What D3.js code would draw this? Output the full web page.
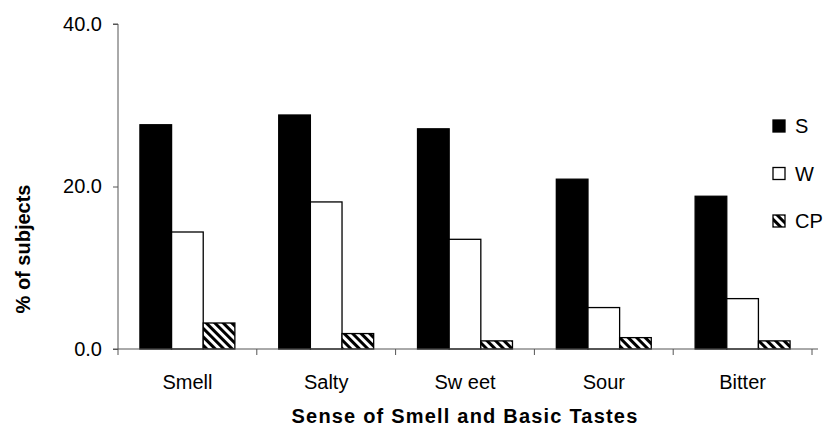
<!DOCTYPE html>
<html><head><meta charset="utf-8">
<script src="https://cdn.jsdelivr.net/npm/d3@7/dist/d3.min.js"></script>
<style>body{margin:0;background:#fff}svg{display:block;font-family:"Liberation Sans",Arial,sans-serif}</style>
</head><body><svg id="c" width="823" height="431"></svg>
<script>
const categories = ["Smell", "Salty", "Sw eet", "Sour", "Bitter"];
const seriesNames = ["S", "W", "CP"];
const valuesS  = [27.6, 28.8, 27.1, 20.9, 18.8];
const valuesW  = [14.4, 18.1, 13.5, 5.1, 6.2];
const valuesCP = [3.2, 1.9, 1.0, 1.4, 1.0];
const yTicks = [0, 20, 40];

const series = [valuesS, valuesW, valuesCP];
const svg = d3.select("#c");
const defs = svg.append("defs");
const pat = defs.append("pattern").attr("id","hatch").attr("patternUnits","userSpaceOnUse")
  .attr("width",6).attr("height",6).attr("patternTransform","rotate(-45)");
pat.append("rect").attr("width",6).attr("height",6).attr("fill","#fff");
pat.append("rect").attr("x",0).attr("width",3).attr("height",6).attr("fill","#000");

const fills = ["#000", "#fff", "url(#hatch)"];
const mLeft = 118, mRight = 812, mTop = 24, mBottom = 349;
const x = d3.scaleBand().domain(categories).range([mLeft, mRight]).padding(0);
const step = x.bandwidth();
const xs = d3.scaleBand().domain(seriesNames).range([step*0.158, step*0.842]).padding(0);
const y = d3.scaleLinear().domain([0, 40]).range([mBottom, mTop]);

// bars
series.forEach((vals, si) => {
  svg.append("g").selectAll("rect").data(vals).join("rect")
    .attr("x", (d,i) => x(categories[i]) + xs(seriesNames[si]))
    .attr("y", d => y(d))
    .attr("width", xs.bandwidth())
    .attr("height", d => mBottom - y(d))
    .attr("fill", fills[si]).attr("stroke", "#000").attr("stroke-width", 1.3);
});

// y axis
const ya = svg.append("g").attr("transform", `translate(${mLeft},0)`)
  .call(d3.axisLeft(y).tickValues(yTicks).tickFormat(d3.format(".1f")).tickSize(5).tickPadding(11));
ya.select(".domain").attr("stroke","#555").attr("d", `M-5,${mTop}H0V${mBottom}`);
ya.selectAll(".tick line").attr("stroke","#555");
ya.selectAll("text").attr("font-size",20).attr("fill","#000").attr("font-family","Liberation Sans, Arial, sans-serif");

// x axis
const xa = svg.append("g").attr("transform", `translate(0,${mBottom})`);
xa.append("line").attr("x1", mLeft - 5).attr("x2", mRight + 6).attr("stroke","#555");
const bounds = categories.map(c => x(c)).concat([mRight]);
xa.selectAll("line.t").data(bounds).join("line").attr("class","t")
  .attr("x1", d=>d).attr("x2", d=>d).attr("y1",0).attr("y2",6).attr("stroke","#555");
xa.selectAll("text").data(categories).join("text")
  .attr("x", d => x(d) + step/2).attr("y", 40).attr("text-anchor","middle")
  .attr("font-size",20).text(d => d);

// axis titles
svg.append("text").attr("x", (mLeft+mRight)/2).attr("y", 423).attr("text-anchor","middle")
  .attr("font-size",20).attr("font-weight","bold").attr("letter-spacing",1.2).text("Sense of Smell and Basic Tastes");
svg.append("text").attr("transform","translate(30,249) rotate(-90)").attr("text-anchor","middle")
  .attr("font-size",20).attr("font-weight","bold").text("% of subjects");

// legend
const lg = svg.append("g");
seriesNames.forEach((n, i) => {
  const ly = 126 + i*47.5;
  lg.append("rect").attr("x",773).attr("y",ly-6).attr("width",12).attr("height",12)
    .attr("fill",fills[i]).attr("stroke","#000").attr("stroke-width",1.3);
  lg.append("text").attr("x",795).attr("y",ly+7).attr("font-size",20).text(n);
});
</script></body></html>
